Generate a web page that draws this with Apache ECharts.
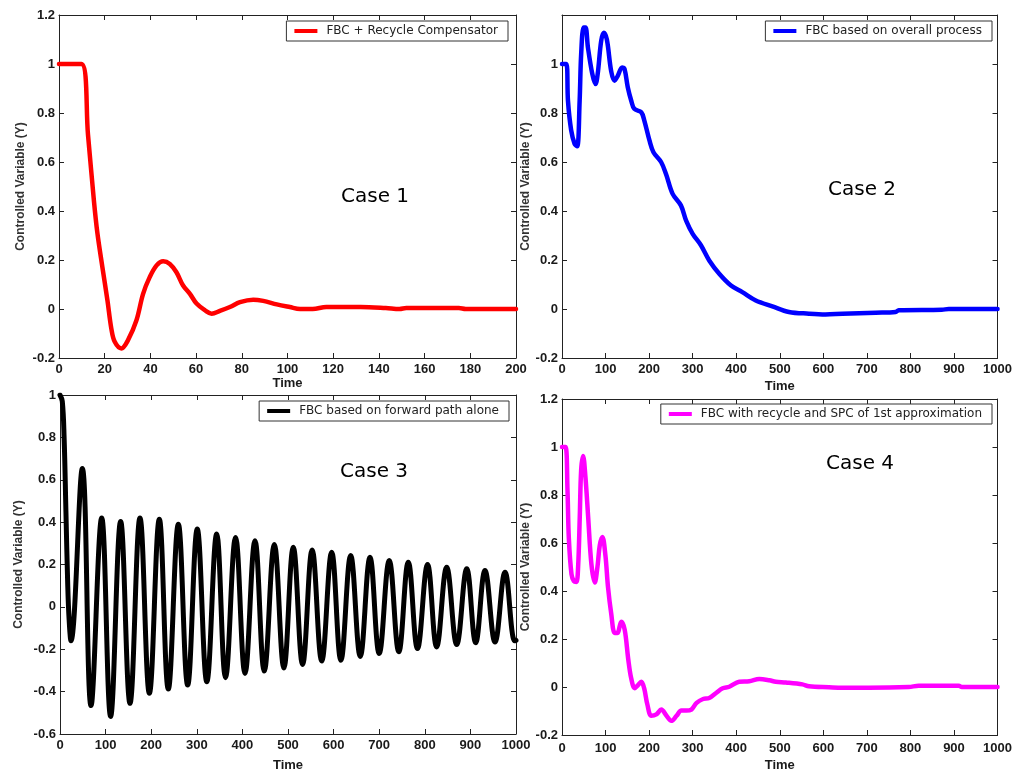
<!DOCTYPE html>
<html>
<head>
<meta charset="utf-8">
<script src="https://cdn.jsdelivr.net/npm/echarts@6/dist/echarts.min.js"></script>
<style>
  html, body { margin: 0; padding: 0; background: #fff; }
  #chart { width: 1015px; height: 773px; }
</style>
</head>
<body>
<div id="chart"></div>
<script>
// Closed-loop responses of the controlled variable for four controller designs.

const case1Time = [0, 9.8, 12.7, 15.3, 16.8, 19.0, 21.2, 22.9, 24.4, 27.3, 30.2, 33.9, 36.8, 39.7, 42.7, 45.6, 48.5, 51.4, 54.3, 57.3, 60.2, 63.8, 66.8, 70.4, 74.8, 79.2, 85, 89.4, 95.3, 101, 105.5, 111, 117, 132, 143, 149, 152, 175, 178, 200];
const case1Y    = [1, 1, 0.71, 0.44, 0.31, 0.17, 0.035, -0.08, -0.134, -0.161, -0.127, -0.046, 0.062, 0.13, 0.178, 0.195, 0.184, 0.15, 0.096, 0.062, 0.022, -0.005, -0.019, -0.008, 0.008, 0.028, 0.038, 0.033, 0.019, 0.008, 0, 0, 0.008, 0.008, 0.004, 0, 0.004, 0.004, 0, 0];

const case2Time = [0, 10, 13.7, 21, 29, 35, 40.5, 44, 49.6, 54, 59.5, 69.5, 77, 82, 90, 96, 103, 113, 120.6, 128, 138, 143.5, 151, 159, 166, 182, 189, 200.8, 210, 227.5, 239, 254, 273, 285, 300, 319, 338, 361, 388, 414, 445, 483, 521, 567, 605, 644, 720, 766, 773, 872, 888, 1000];
const case2Y    = [1, 1, 0.85, 0.73, 0.674, 0.664, 0.85, 1.04, 1.149, 1.149, 1.068, 0.96, 0.918, 0.96, 1.095, 1.128, 1.10, 0.97, 0.932, 0.952, 0.986, 0.98, 0.905, 0.85, 0.817, 0.803, 0.769, 0.688, 0.64, 0.6, 0.55, 0.47, 0.423, 0.361, 0.307, 0.26, 0.198, 0.144, 0.096, 0.069, 0.035, 0.011, -0.012, -0.019, -0.022, -0.019, -0.015, -0.012, -0.005, -0.003, 0, 0];

const case3Time = [0, 5, 9, 13, 17, 20, 24, 49, 68, 91.4, 111, 133, 153.5, 175.4, 196, 217.8, 237.5, 259.5, 280, 301, 322, 343.6, 363, 385, 405.7, 427.6, 448, 470, 491, 511.6, 532, 553, 574, 595.8, 616, 637.5, 658.5, 679.8, 700, 722, 743, 763.8, 784, 806, 826, 848, 870, 892, 911.6, 932, 954, 976, 997, 1000];
const case3Y    = [1, 0.97, 0.8, 0.45, 0.1, -0.06, -0.16, 0.653, -0.466, 0.42, -0.517, 0.403, -0.455, 0.42, -0.408, 0.414, -0.388, 0.39, -0.369, 0.367, -0.353, 0.344, -0.334, 0.328, -0.314, 0.312, -0.303, 0.294, -0.288, 0.281, -0.272, 0.269, -0.256, 0.258, -0.252, 0.242, -0.234, 0.234, -0.22, 0.219, -0.212, 0.211, -0.197, 0.2, -0.189, 0.187, -0.178, 0.18, -0.169, 0.172, -0.166, 0.164, -0.16, -0.158];

const case4Time = [0, 8, 12.6, 15.7, 21.8, 27.5, 33, 37, 40.8, 44, 48.5, 53.8, 60, 67.6, 75.3, 81.4, 86.7, 92.8, 99.6, 105.7, 113, 121, 127, 136, 144, 152, 159, 167, 174.5, 182, 188.6, 196, 205, 216.7, 228, 240, 251, 263, 274, 285.6, 297, 309, 324, 338, 353, 369, 384, 407, 430, 453, 476, 491, 514, 552, 567, 613, 644, 704, 796, 819, 911, 918, 1000];
const case4Y    = [1, 1, 0.82, 0.62, 0.47, 0.44, 0.437, 0.5, 0.71, 0.905, 0.963, 0.875, 0.71, 0.51, 0.435, 0.5, 0.59, 0.625, 0.55, 0.415, 0.306, 0.225, 0.225, 0.272, 0.238, 0.117, 0.035, -0.005, 0.008, 0.022, -0.005, -0.073, -0.12, -0.114, -0.094, -0.12, -0.141, -0.12, -0.098, -0.098, -0.094, -0.066, -0.05, -0.046, -0.026, -0.005, 0.001, 0.022, 0.024, 0.033, 0.028, 0.022, 0.019, 0.011, 0.003, -0.001, -0.003, -0.003, 0, 0.005, 0.005, 0, 0];

const seriesNames = [
  'FBC + Recycle Compensator',
  'FBC based on overall process',
  'FBC based on forward path alone',
  'FBC with recycle and SPC of 1st approximation'
];
const caseLabels = ['Case 1', 'Case 2', 'Case 3', 'Case 4'];
const lineColors = ['#ff0000', '#0000ff', '#000000', '#ff00ff'];
const xRanges = [[0, 200, 20], [0, 1000, 100], [0, 1000, 100], [0, 1000, 100]];
const yRanges = [[-0.2, 1.2, 0.2], [-0.2, 1.2, 0.2], [-0.6, 1, 0.2], [-0.2, 1.2, 0.2]];
const xTitle = 'Time';
const yTitle = 'Controlled Variable (Y)';

const allTime = [case1Time, case2Time, case3Time, case4Time];
const allY = [case1Y, case2Y, case3Y, case4Y];

// Layout of the four panels
const grids = [
  { left: 59, top: 15, width: 457, height: 343 },
  { left: 562, top: 15, width: 437, height: 343 },
  { left: 60, top: 395, width: 456, height: 342 },
  { left: 562, top: 399, width: 437, height: 342 }
];
const xLabelMargin = [5, 5, 5, 7];
const xNameGap = [18, 22, 25, 24];
const yNameGap = [32, 27, 35, 29];
const legendPos = [
  { right: 507, top: 21 },
  { right: 23, top: 21 },
  { right: 506, top: 401 },
  { right: 23, top: 404 }
];
const caseLabelPos = [[375, 197], [862, 190], [374, 472], [860, 464]];
const lineWidths = [4.5, 4.5, 5, 4.5];
const smoothness = [0.35, 0.35, 0.4, 0.35];

const FONT = "'Liberation Sans Narrow', 'Liberation Sans', Arial, sans-serif";
const TEXT_FONT = "'DejaVu Sans', 'Liberation Sans', Arial, sans-serif";
const tickFont = { fontSize: 13, fontWeight: 'bold', fontFamily: FONT, color: '#1a1a1a' };
const frame = { color: '#222', width: 1 };

function fmt(v) {
  const r = Math.round(v * 10) / 10;
  return String(r);
}

const xAxes = [], yAxes = [];
// bottom / left axes with labels
grids.forEach((g, i) => {
  const [x0, x1, xi] = xRanges[i];
  const [y0, y1, yi] = yRanges[i];
  xAxes.push({
    gridIndex: i, type: 'value', position: 'bottom', min: x0, max: x1, interval: xi,
    name: xTitle, nameLocation: 'middle', nameGap: xNameGap[i],
    nameTextStyle: { fontSize: 13, fontWeight: 'bold', fontFamily: FONT, color: '#1a1a1a' },
    axisLine: { onZero: false, lineStyle: frame },
    axisTick: { inside: true, length: 5, lineStyle: frame },
    axisLabel: Object.assign({ margin: xLabelMargin[i], formatter: fmt }, tickFont),
    splitLine: { show: false }
  });
  yAxes.push({
    gridIndex: i, type: 'value', position: 'left', min: y0, max: y1, interval: yi,
    name: yTitle, nameLocation: 'middle', nameGap: yNameGap[i], nameRotate: 90,
    nameTextStyle: { fontSize: 12, fontWeight: 'bold', fontFamily: FONT, color: '#333' },
    axisLine: { onZero: false, lineStyle: frame },
    axisTick: { inside: true, length: 5, lineStyle: frame },
    axisLabel: Object.assign({ margin: 4, formatter: fmt, showMaxLabel: i !== 1 }, tickFont),
    splitLine: { show: false }
  });
});
// top / right mirror axes (ticks only)
grids.forEach((g, i) => {
  const [x0, x1, xi] = xRanges[i];
  const [y0, y1, yi] = yRanges[i];
  xAxes.push({
    gridIndex: i, type: 'value', position: 'top', min: x0, max: x1, interval: xi,
    axisLine: { onZero: false, lineStyle: frame },
    axisTick: { inside: true, length: 5, lineStyle: frame },
    axisLabel: { show: false }, splitLine: { show: false }
  });
  yAxes.push({
    gridIndex: i, type: 'value', position: 'right', min: y0, max: y1, interval: yi,
    axisLine: { onZero: false, lineStyle: frame },
    axisTick: { inside: true, length: 5, lineStyle: frame },
    axisLabel: { show: false }, splitLine: { show: false }
  });
});

const series = allTime.map((ts, i) => ({
  name: seriesNames[i],
  type: 'line',
  xAxisIndex: i,
  yAxisIndex: i,
  data: ts.map((t, k) => [t, allY[i][k]]),
  showSymbol: false,
  smooth: smoothness[i],
  lineStyle: { color: lineColors[i], width: lineWidths[i], join: 'round', cap: 'round' },
  itemStyle: { color: lineColors[i] },
  z: 3
}));

const legends = seriesNames.map((n, i) => Object.assign({
  data: [n],
  orient: 'horizontal',
  icon: 'rect',
  itemWidth: 23,
  itemHeight: 4,
  backgroundColor: '#fff',
  borderColor: '#333',
  borderWidth: 1,
  borderRadius: 0,
  padding: [4, 10, 4, 8],
  selectedMode: false,
  textStyle: { fontSize: 12, fontFamily: TEXT_FONT, color: '#222', padding: [0, 0, 0, 4] }
}, legendPos[i]));

const graphic = caseLabels.map((c, i) => ({
  type: 'text',
  x: caseLabelPos[i][0],
  y: caseLabelPos[i][1],
  style: {
    text: c,
    font: "20px 'DejaVu Sans', 'Liberation Sans', Arial, sans-serif",
    fill: '#000',
    align: 'center',
    verticalAlign: 'middle'
  },
  z: 10
}));

const chart = echarts.init(document.getElementById('chart'), null, { renderer: 'canvas' });
chart.setOption({
  animation: false,
  backgroundColor: '#fff',
  grid: grids.map(g => Object.assign({ containLabel: false }, g)),
  xAxis: xAxes,
  yAxis: yAxes,
  legend: legends,
  series: series,
  graphic: graphic
});
</script>
</body>
</html>
